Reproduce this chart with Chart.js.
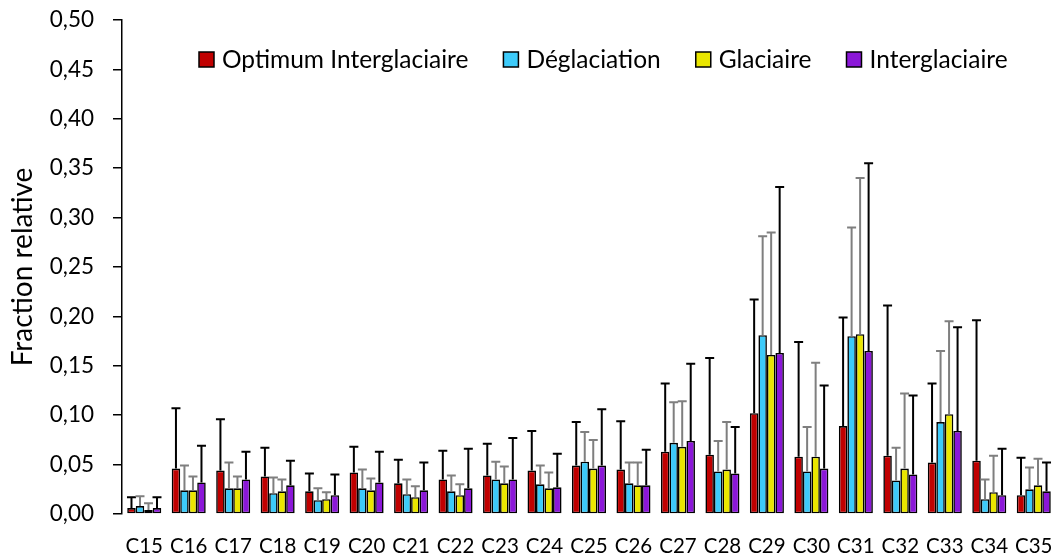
<!DOCTYPE html>
<html>
<head>
<meta charset="utf-8">
<script src="https://cdn.jsdelivr.net/npm/chart.js@4/dist/chart.umd.min.js"></script>
<style>
html, body { margin: 0; padding: 0; background: #fff; }
#wrap { width: 1056px; height: 555px; }
</style>
</head>
<body>
<div id="wrap"><canvas id="myChart" width="1056" height="555"></canvas></div>
<script>
// data
var categories = ['C15','C16','C17','C18','C19','C20','C21','C22','C23','C24','C25','C26','C27','C28','C29','C30','C31','C32','C33','C34','C35'];
var seriesNames = ['Optimum Interglaciaire', 'Déglaciation', 'Glaciaire', 'Interglaciaire'];
var seriesColors = ['#C00000', '#3DCBFA', '#EAE600', '#8B17D8'];
var errColors = ['#000000', '#7F7F7F', '#7F7F7F', '#000000'];
var yTicks = [0, 0.05, 0.10, 0.15, 0.20, 0.25, 0.30, 0.35, 0.40, 0.45, 0.50];

var optimum      = [0.006,0.046,0.044,0.038,0.023,0.042,0.031,0.035,0.039,0.044,0.049,0.045,0.063,0.060,0.102,0.058,0.089,0.059,0.052,0.054,0.019];
var optimumErr   = [0.011,0.061,0.052,0.029,0.018,0.026,0.024,0.029,0.032,0.040,0.044,0.049,0.069,0.098,0.115,0.116,0.110,0.152,0.080,0.142,0.038];
var deglaciation = [0.008,0.024,0.026,0.021,0.014,0.026,0.020,0.023,0.035,0.030,0.053,0.031,0.072,0.043,0.181,0.043,0.180,0.034,0.093,0.015,0.025];
var deglaciationErr = [0.010,0.025,0.026,0.016,0.012,0.019,0.015,0.016,0.018,0.019,0.030,0.021,0.041,0.031,0.100,0.045,0.110,0.033,0.072,0.020,0.022];
var glaciaire    = [0.004,0.024,0.026,0.023,0.015,0.024,0.017,0.019,0.031,0.026,0.046,0.029,0.068,0.045,0.161,0.058,0.182,0.046,0.101,0.022,0.029];
var glaciaireErr = [0.007,0.014,0.012,0.012,0.007,0.012,0.011,0.011,0.017,0.016,0.029,0.023,0.046,0.048,0.124,0.095,0.158,0.076,0.094,0.037,0.027];
var interglaciaire = [0.006,0.032,0.035,0.029,0.019,0.032,0.024,0.026,0.035,0.027,0.049,0.029,0.074,0.041,0.163,0.046,0.165,0.040,0.084,0.019,0.023];
var interglaciaireErr = [0.011,0.037,0.028,0.025,0.021,0.031,0.028,0.040,0.042,0.034,0.057,0.036,0.078,0.047,0.168,0.084,0.190,0.080,0.105,0.047,0.029];

var values = [optimum, deglaciation, glaciaire, interglaciaire];
var errors = [optimumErr, deglaciationErr, glaciaireErr, interglaciaireErr];

var FONT = 'Lato, "Open Sans", sans-serif';

var datasets = seriesNames.map(function(name, i) {
    return {
        label: name,
        data: values[i],
        errors: errors[i],
        errColor: errColors[i],
        backgroundColor: seriesColors[i],
        borderColor: '#000000',
        borderWidth: 1.6,
        borderSkipped: false
    };
});

// upper error bars
var errorBars = {
    id: 'errorBars',
    afterDatasetsDraw: function(chart) {
        var ctx = chart.ctx;
        var yScale = chart.scales.y;
        ctx.save();
        chart.data.datasets.forEach(function(ds, i) {
            var meta = chart.getDatasetMeta(i);
            meta.data.forEach(function(bar, j) {
                var top = yScale.getPixelForValue(ds.data[j] + ds.errors[j]);
                ctx.strokeStyle = ds.errColor;
                ctx.lineWidth = 2;
                ctx.beginPath();
                ctx.moveTo(bar.x, bar.y);
                ctx.lineTo(bar.x, top);
                ctx.moveTo(bar.x - 4.5, top);
                ctx.lineTo(bar.x + 4.5, top);
                ctx.stroke();
            });
        });
        ctx.restore();
    }
};

// legend drawn inside the plot area
var innerLegend = {
    id: 'innerLegend',
    afterDraw: function(chart) {
        var ctx = chart.ctx;
        ctx.save();
        ctx.font = '24.5px ' + FONT;
        ctx.textBaseline = 'middle';
        var x = 199, y = 59.5;
        chart.data.datasets.forEach(function(ds) {
            ctx.fillStyle = ds.backgroundColor;
            ctx.fillRect(x, y - 7.5, 15, 15);
            ctx.strokeStyle = '#000';
            ctx.lineWidth = 1.5;
            ctx.strokeRect(x, y - 7.5, 15, 15);
            ctx.fillStyle = '#000';
            ctx.fillText(ds.label, x + 23, y + 1);
            x += 23 + ctx.measureText(ds.label).width + 35;
        });
        ctx.restore();
    }
};

var ctx = document.getElementById('myChart').getContext('2d');
var myChart = new Chart(ctx, {
    type: 'bar',
    data: { labels: categories, datasets: datasets },
    plugins: [errorBars, innerLegend],
    options: {
        responsive: false,
        animation: false,
        categoryPercentage: 0.765,
        barPercentage: 1.0,
        layout: { padding: { top: 20, right: 0, bottom: 0, left: 0 } },
        plugins: { legend: { display: false }, tooltip: { enabled: false } },
        scales: {
            x: {
                grid: { display: false },
                border: { display: false },
                ticks: { color: '#000', font: { family: FONT, size: 20.5 }, padding: 12, maxRotation: 0, autoSkip: false },
                afterFit: function(scale) {
                    scale.height = 41;
                    scale.paddingLeft = 0;
                    scale.paddingRight = 0;
                }
            },
            y: {
                min: 0,
                max: 0.5,
                afterBuildTicks: function(scale) {
                    scale.ticks = yTicks.map(function(v) { return { value: v }; });
                },
                grid: { drawOnChartArea: false, drawTicks: true, tickLength: 9, color: '#000', lineWidth: 1.5 },
                border: { display: true, color: '#000', width: 1.5 },
                ticks: {
                    color: '#000',
                    font: { family: FONT, size: 22.5 },
                    padding: 19,
                    callback: function(v) { return v.toFixed(2).replace('.', ','); }
                },
                title: {
                    display: true,
                    text: 'Fraction relative',
                    color: '#000',
                    font: { family: FONT, size: 28 },
                    padding: { top: 6, bottom: 0 }
                },
                afterFit: function(scale) {
                    scale.width = 122;
                    scale.paddingTop = 0;
                    scale.paddingBottom = 0;
                }
            }
        }
    }
});
</script>
</body>
</html>
